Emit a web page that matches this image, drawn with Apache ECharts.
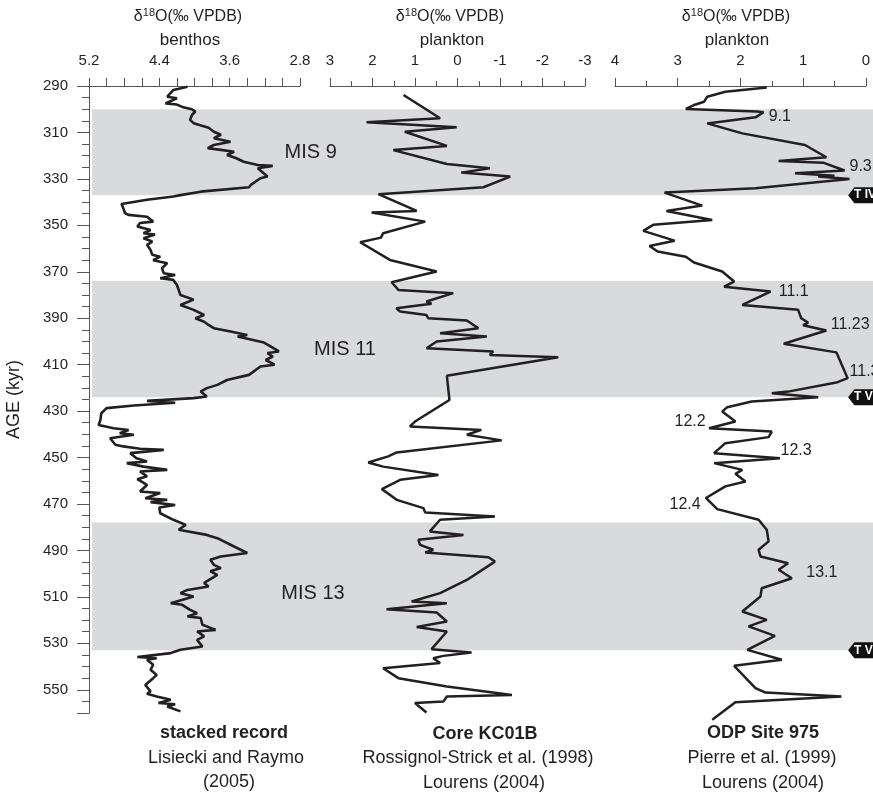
<!DOCTYPE html>
<html>
<head>
<meta charset="utf-8">
<title>d18O MIS 9-13</title>
<script src="https://cdn.jsdelivr.net/npm/echarts@6/dist/echarts.min.js"></script>
<style>
  html, body { margin: 0; padding: 0; background: #fff; }
  #main { width: 873px; height: 793px; }
</style>
</head>
<body>
<div id="main"></div>
<script>
// ---- data ----
// stacked benthic record (LR04)
const benthosAge = [290.3, 291.7, 293.0, 294.6, 295.3, 297.5, 298.0, 299.0, 300.0, 301.0, 302.5, 304.6, 306.0, 308.0, 309.7,
  311.0, 312.5, 314.0, 315.4, 316.8, 317.5, 318.3, 319.7, 321.0, 322.6, 324.0, 324.4, 325.4, 329.0, 329.7, 332.6, 333.6,
  335.5, 337.0, 337.6, 339.0, 340.8, 342.6, 344.8, 345.5, 346.3, 348.4, 349.0, 350.5, 352.0, 353.4, 354.0, 355.6, 357.0,
  358.4, 360.6, 362.7, 363.5, 365.0, 366.3, 368.5, 370.6, 371.4, 372.8, 373.5, 375.7, 377.8, 380.0, 382.0, 384.3, 386.4,
  388.6, 390.0, 391.5, 392.9, 394.3, 395.7, 397.2, 397.9, 400.5, 402.2, 404.3, 405.0, 406.5, 408.0, 410.0, 410.8, 414.4,
  416.6, 418.7, 420.1, 421.6, 423.7, 424.4, 425.6, 426.4, 427.6, 428.7, 430.9, 433.8, 436.0, 437.4, 438.1, 439.5, 440.2,
  441.7, 444.5, 445.2, 446.2, 446.7, 448.1, 450.3, 451.7, 452.4, 453.9, 455.3, 456.0, 458.1, 459.3, 461.8, 464.6, 465.3,
  467.5, 468.2, 469.2, 470.4, 471.5, 474.0, 476.8, 479.0, 481.1, 483.3, 484.7, 488.3, 491.1, 492.6, 494.0, 496.2, 497.6,
  499.0, 500.5, 504.0, 505.5, 507.0, 508.4, 509.8, 512.7, 513.4, 515.6, 517.0, 518.4, 519.1, 522.0, 524.2, 524.9, 527.0,
  528.5, 531.4, 532.8, 534.2, 535.9, 536.4, 537.1, 539.2, 541.4, 543.6, 545.0, 547.9, 550.7, 551.7, 552.9, 554.3, 555.7,
  556.2, 557.2, 559.3];
const benthosD18O = [4.08, 4.24, 4.27, 4.31, 4.20, 4.33, 4.20, 4.14, 4.03, 3.99, 4.03, 4.05, 4.01, 3.84, 3.78,
  3.70, 3.78, 3.59, 3.78, 3.85, 3.70, 3.55, 3.63, 3.53, 3.44, 3.28, 3.11, 3.28, 3.17, 3.25, 3.36, 3.38,
  3.93, 4.16, 4.24, 4.54, 4.83, 4.81, 4.79, 4.75, 4.54, 4.47, 4.62, 4.65, 4.50, 4.58, 4.45, 4.58, 4.48,
  4.54, 4.50, 4.48, 4.39, 4.47, 4.31, 4.37, 4.35, 4.22, 4.39, 4.24, 4.20, 4.18, 4.16, 4.01, 4.16, 4.01,
  3.89, 3.99, 3.89, 3.84, 3.78, 3.59, 3.40, 3.51, 3.21, 3.13, 3.04, 3.17, 3.11, 3.19, 3.09, 3.25, 3.38,
  3.63, 3.74, 3.86, 3.93, 3.86, 4.01, 4.54, 4.22, 4.69, 5.00, 5.06, 5.07, 5.09, 4.92, 4.75, 4.85, 4.69,
  4.96, 4.90, 4.81, 4.62, 4.35, 4.73, 4.66, 4.54, 4.77, 4.58, 4.31, 4.62, 4.54, 4.65, 4.54, 4.62, 4.39,
  4.56, 4.31, 4.50, 4.22, 4.40, 4.39, 4.24, 4.10, 4.18, 3.86, 3.74, 3.55, 3.40, 3.70, 3.82, 3.78, 3.70,
  3.82, 3.74, 3.89, 3.84, 4.08, 4.16, 4.01, 4.27, 4.14, 4.05, 3.97, 4.08, 3.93, 3.91, 3.76, 3.97, 3.89,
  3.97, 3.91, 4.16, 4.27, 4.65, 4.43, 4.54, 4.47, 4.50, 4.43, 4.47, 4.56, 4.50, 4.54, 4.43, 4.27, 4.41,
  4.22, 4.31, 4.16];

// Core KC01B planktonic
const kcAge = [293.9, 303.9, 305.6, 307.8, 309.7, 315.8, 317.6, 323.6, 325.4, 327.3, 329.0, 333.6, 336.6, 343.8, 344.5,
  348.4, 353.4, 355.3, 357.3, 364.9, 369.9, 374.5, 377.8, 379.2, 382.8, 383.8, 385.7, 387.1, 388.6, 390.0, 391.0, 394.3,
  395.0, 396.5, 397.9, 400.0, 402.9, 404.3, 405.8, 406.8, 414.8, 425.2, 434.5, 436.6, 438.1, 440.2, 442.6, 447.8, 449.5,
  452.1, 453.9, 457.5, 459.6, 463.6, 468.2, 471.8, 473.7, 475.4, 476.8, 481.8, 483.3, 485.4, 487.6, 489.7, 490.9, 492.9,
  494.8, 502.7, 508.4, 512.0, 512.7, 515.3, 516.7, 520.6, 523.0, 524.9, 532.5, 533.9, 535.4, 536.4, 538.5, 540.7, 545.0,
  548.6, 552.2, 552.9, 555.0, 555.7, 559.8];
const kcD18O = [1.27, 0.41, 2.14, 0.02, 1.24, 0.25, 1.51, 0.25, -0.76, -0.09, -1.24, -0.61, 1.86, 0.96, 2.02,
  0.76, 1.75, 1.80, 2.29, 1.59, 0.49, 1.55, 1.39, 0.10, 0.73, 0.61, 1.44, 1.35, 0.73, 0.69, -0.22, -0.49,
  -0.53, 0.41, -0.69, 0.49, 0.73, -0.84, -0.76, -2.37, 0.25, 0.19, 1.00, 1.12, -0.56, -0.22, -1.04, 1.43, 1.63,
  2.10, 1.75, 0.45, 1.35, 1.78, 1.43, 0.80, 0.76, -0.88, 0.41, 0.65, -0.14, 0.92, 0.88, 0.57, 0.76, -0.73,
  -0.88, -0.22, 0.41, 1.08, 0.25, 1.67, 0.49, 0.25, 0.96, 0.25, 0.61, -0.33, 0.33, 0.57, 0.41, 1.75, 1.39,
  0.25, -1.28, 0.25, 0.33, 1.00, 0.73];

// ODP Site 975 planktonic
const odpAge = [290.6, 292.5, 294.6, 296.8, 298.2, 299.9, 301.0, 301.3, 303.5, 306.1, 310.4, 315.4, 320.7, 322.3, 323.0,
  326.4, 327.6, 328.6, 329.0, 330.0, 334.0, 335.9, 341.5, 343.8, 347.7, 349.8, 352.4, 356.6, 358.9, 361.3, 363.5, 366.0,
  369.9, 374.2, 376.4, 378.5, 384.3, 386.4, 390.0, 391.9, 393.0, 395.3, 401.0, 404.7, 415.8, 417.7, 421.6, 422.3, 424.0,
  425.9, 428.3, 430.2, 434.5, 437.4, 438.8, 441.2, 443.8, 448.1, 450.3, 452.4, 455.3, 457.0, 460.3, 462.4, 467.4, 472.2,
  476.8, 481.1, 486.1, 489.7, 492.6, 495.5, 498.3, 502.0, 506.3, 509.8, 516.3, 519.9, 522.7, 526.8, 532.8, 537.1, 539.7,
  549.3, 551.2, 552.9, 555.4, 562.9];
const odpD18O = [1.58, 2.24, 2.53, 2.58, 2.74, 2.87, 1.74, 1.63, 1.76, 2.53, 1.97, 0.97, 0.63, 1.39, 0.68,
  0.34, 1.13, 0.50, 0.76, 0.26, 1.76, 3.21, 2.61, 3.18, 2.45, 3.39, 3.55, 3.05, 3.45, 3.32, 2.87, 2.74,
  2.29, 2.10, 2.26, 1.52, 1.97, 1.08, 1.03, 0.92, 1.00, 0.63, 1.31, 0.47, 0.29, 0.47, 1.24, 1.50, 0.76,
  1.82, 2.21, 2.29, 2.08, 2.50, 1.50, 1.55, 2.24, 2.42, 1.37, 2.42, 1.97, 2.08, 1.92, 2.24, 2.55, 2.37,
  1.71, 1.58, 1.55, 1.71, 1.68, 1.24, 1.39, 1.18, 1.66, 1.68, 1.97, 1.58, 1.87, 1.45, 1.89, 1.34, 2.10,
  1.76, 1.60, 0.39, 2.08, 2.45];

// marine isotope stages (interglacials, shaded)
const misNames = ['MIS 9', 'MIS 11', 'MIS 13'];
const misTop = [300, 374, 478];
const misBottom = [337, 424, 533];

// substage labels on ODP 975
const stageNames = ['9.1', '9.3', '11.1', '11.23', '11.3', '12.2', '12.3', '12.4', '13.1'];
const stageD18O = [1.55, 0.26, 1.39, 0.56, 0.26, 3.05, 1.36, 3.13, 0.95];
const stageAge = [303.3, 324.9, 378.7, 392.9, 413.1, 434.6, 447.1, 470.4, 499.6];

// terminations
const termNames = ['T IV', 'T V', 'T VI'];
const termAge = [337, 424, 533];

// tick labels
const ageTicks = [290, 310, 330, 350, 370, 390, 410, 430, 450, 470, 490, 510, 530, 550];
const benthosTicks = [5.2, 4.4, 3.6, 2.8];

const FONT = "'Liberation Sans', Arial, Helvetica, sans-serif";
const INK = '#231f20';
const AXIS = '#555';

function pairs(vals, ages) {
  return ages.map(function (a, i) { return [vals[i], a]; });
}

// top axis for one panel
function topAxis(grid, min, max, interval, extra) {
  let ax = {
    gridIndex: grid,
    type: 'value',
    position: 'top',
    inverse: true,
    min: min,
    max: max,
    interval: interval,
    axisLine: { lineStyle: { color: AXIS, width: 1 } },
    axisTick: { length: 8, lineStyle: { color: AXIS } },
    splitLine: { show: false },
    axisLabel: {
      margin: 18, fontSize: 15, color: INK, fontFamily: FONT,
      showMinLabel: true, showMaxLabel: true
    }
  };
  return Object.assign(ax, extra || {});
}

function hiddenY(grid) {
  return { gridIndex: grid, type: 'value', inverse: true, min: 290, max: 560, show: false };
}

let mychart = echarts.init(document.getElementById('main'));

let graphics = [];
function txt(x, y, s, size, bold) {
  graphics.push({
    type: 'text', x: x, y: y,
    style: {
      text: s, fill: INK, fontSize: size, fontFamily: FONT, fontWeight: bold ? 'bold' : 'normal',
      textAlign: 'center', textVerticalAlign: 'middle'
    }
  });
}
function header(x, y) {
  graphics.push({
    type: 'text', x: x, y: y,
    style: {
      text: '{n|δ}{s|18}{n|O(‰ VPDB)}',
      rich: {
        n: { fontSize: 16, fontFamily: FONT, fill: INK },
        s: { fontSize: 11, fontFamily: FONT, fill: INK, padding: [0, 0, 9, 0] }
      },
      textAlign: 'center', textVerticalAlign: 'middle'
    }
  });
}
// headers
header(188, 17); txt(190, 40, 'benthos', 17);
header(450, 17); txt(452, 40, 'plankton', 17);
header(736, 17); txt(737, 40, 'plankton', 17);
// captions
txt(224, 733, 'stacked record', 18, true);
txt(226, 758, 'Lisiecki and Raymo', 18);
txt(229, 782, '(2005)', 18);
txt(485, 734, 'Core KC01B', 18, true);
txt(478, 758, 'Rossignol-Strick et al. (1998)', 18);
txt(484, 783, 'Lourens (2004)', 18);
txt(763, 733, 'ODP Site 975', 18, true);
txt(762, 758, 'Pierre et al. (1999)', 18);
txt(763, 783, 'Lourens (2004)', 18);

let option = {
  animation: false,
  backgroundColor: '#fff',
  textStyle: { fontFamily: FONT },
  grid: [
    { left: 89, top: 86, width: 211, bottom: 80 },
    { left: 330, top: 86, width: 255, bottom: 80 },
    { left: 615, top: 86, width: 253, bottom: 80 },
    { left: 92, top: 86, right: 0, bottom: 80 }
  ],
  xAxis: [
    topAxis(0, 2.8, 5.2, 0.2, {
      axisLabel: {
        margin: 18, fontSize: 15, color: INK, fontFamily: FONT,
        customValues: benthosTicks,
        formatter: function (v) { return v.toFixed(1); }
      }
    }),
    topAxis(1, -3, 3, 1, {
      minorTick: { show: true, splitNumber: 2, length: 5, lineStyle: { color: AXIS } }
    }),
    topAxis(2, 0, 4, 1, {
      minorTick: { show: true, splitNumber: 2, length: 5, lineStyle: { color: AXIS } }
    }),
    { gridIndex: 3, type: 'value', min: 0, max: 100, show: false }
  ],
  yAxis: [
    {
      gridIndex: 0, type: 'value', inverse: true, min: 290, max: 560, interval: 5,
      name: 'AGE (kyr)', nameLocation: 'middle', nameGap: 66,
      nameTextStyle: { fontSize: 18, color: INK, fontFamily: FONT },
      axisLine: { lineStyle: { color: AXIS, width: 1 } },
      axisTick: { length: 12, lineStyle: { color: AXIS }, customValues: ageTicks.concat([560]) },
      axisLabel: { margin: 21, fontSize: 15, color: INK, fontFamily: FONT, customValues: ageTicks },
      splitLine: { show: false }
    },
    hiddenY(1),
    hiddenY(2),
    hiddenY(3),
    {
      // short ticks every 5 kyr
      gridIndex: 0, type: 'value', inverse: true, min: 290, max: 560, interval: 5, position: 'left',
      axisLine: { show: false },
      axisTick: { length: 7, lineStyle: { color: AXIS } },
      axisLabel: { show: false },
      splitLine: { show: false }
    }
  ],
  series: [
    {
      // shaded interglacials + MIS names
      type: 'scatter', xAxisIndex: 3, yAxisIndex: 3, z: 1, silent: true,
      symbolSize: 0,
      itemStyle: { opacity: 1 },
      data: misNames.map(function (n, i) {
        return { name: n, value: [[28.0, 32.4, 28.3][i], [318.8, 403.6, 508.7][i]] };
      }),
      label: { show: true, position: 'inside', formatter: '{b}', fontSize: 20, color: INK, fontFamily: FONT },
      markArea: {
        silent: true,
        itemStyle: { color: '#d9dadc', opacity: 1 },
        data: misTop.map(function (t, i) { return [{ yAxis: t }, { yAxis: misBottom[i] }]; })
      }
    },
    {
      name: 'benthos', type: 'line', xAxisIndex: 0, yAxisIndex: 0, z: 3,
      data: pairs(benthosD18O, benthosAge), symbol: 'none',
      lineStyle: { color: INK, width: 2.6 }
    },
    {
      name: 'KC01B', type: 'line', xAxisIndex: 1, yAxisIndex: 1, z: 3,
      data: pairs(kcD18O, kcAge), symbol: 'none',
      lineStyle: { color: INK, width: 2.5 }
    },
    {
      name: 'ODP 975', type: 'line', xAxisIndex: 2, yAxisIndex: 2, z: 3, clip: false,
      data: pairs(odpD18O, odpAge), symbol: 'none',
      lineStyle: { color: INK, width: 2.5 }
    },
    {
      // substage numbers
      type: 'scatter', xAxisIndex: 2, yAxisIndex: 2, z: 4, clip: false, silent: true,
      symbolSize: 0,
      itemStyle: { opacity: 1 },
      data: stageNames.map(function (n, i) { return { name: n, value: [stageD18O[i], stageAge[i]] }; }),
      label: { show: true, position: 'right', distance: 0, formatter: '{b}', fontSize: 16, color: INK, fontFamily: FONT }
    },
    {
      // termination tags
      type: 'scatter', xAxisIndex: 2, yAxisIndex: 2, z: 4, clip: false, silent: true,
      symbol: 'path://M0,5 L3,0 L20,0 L23,5 L20,10 L3,10 Z',
      symbolSize: [48, 16],
      itemStyle: { color: '#111', opacity: 1 },
      data: termNames.map(function (n, i) { return { name: n, value: [-0.1, termAge[i]] }; }),
      label: {
        show: true, position: 'inside', align: 'left', offset: [-18, 0],
        formatter: '{b}', fontSize: 12, fontWeight: 'bold', color: '#fff', fontFamily: FONT
      }
    }
  ],
  graphic: graphics
};
mychart.setOption(option);
</script>
</body>
</html>
